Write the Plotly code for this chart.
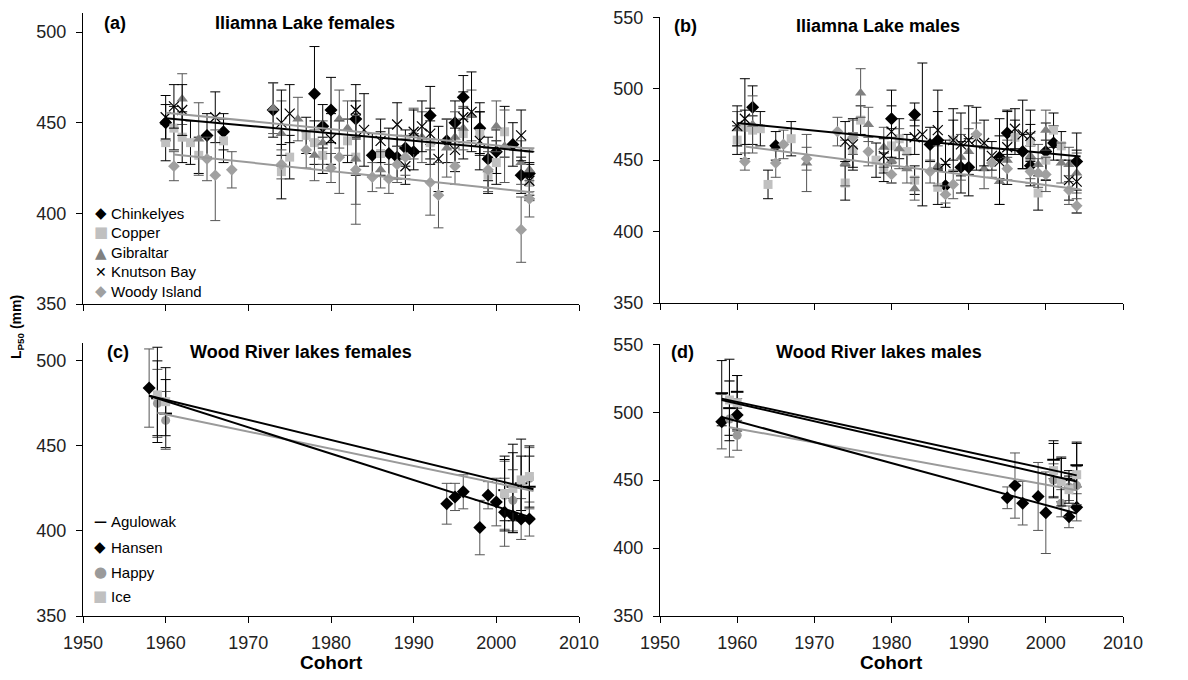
import plotly.graph_objects as go

# ---------------- Panel (a) Iliamna Lake females ----------------
a_chink_x = [1960, 1965, 1967, 1973, 1978, 1979, 1980, 1983, 1985, 1987, 1988, 1989, 1990, 1992, 1994, 1995, 1996, 1998, 1999, 2000, 2002, 2003, 2004]
a_chink_y = [450, 443, 445, 457, 466, 448, 457, 452, 432, 433, 431, 436, 434, 454, 440, 450, 464, 447, 430, 434, 438, 421, 422]
a_chink_e = [10, 12, 10, 15, 26, 12, 18, 10, 12, 14, 12, 10, 10, 16, 12, 12, 12, 14, 12, 12, 12, 10, 12]

a_copper_x = [1960, 1961, 1962, 1963, 1964, 1967, 1974, 1975, 1977, 1978, 1979, 1982, 1983, 1986, 1992, 1996, 1998, 1999, 2000, 2001, 2004]
a_copper_y = [439, 447, 442, 439, 432, 440, 423, 431, 443, 439, 432, 440, 431, 433, 439, 444, 444, 421, 428, 445, 417]
a_copper_e = [10, 12, 14, 12, 10, 12, 15, 12, 10, 12, 10, 12, 10, 12, 12, 14, 12, 10, 12, 14, 10]

a_gib_x = [1962, 1964, 1973, 1974, 1976, 1978, 1979, 1981, 1982, 1983, 1986, 1989, 1990, 1991, 1994, 1995, 1996, 1997, 1999, 2000, 2001, 2003, 2004]
a_gib_y = [463, 441, 458, 444, 452, 432, 439, 452, 447, 430, 424, 431, 444, 442, 436, 442, 447, 454, 424, 448, 437, 428, 424]
a_gib_e = [14, 20, 14, 18, 12, 14, 12, 16, 15, 25, 10, 12, 14, 14, 16, 14, 12, 14, 12, 14, 20, 12, 12]

a_knut_x = [1960, 1961, 1962, 1966, 1974, 1975, 1980, 1983, 1984, 1986, 1988, 1989, 1990, 1991, 1992, 1993, 1995, 1996, 1997, 1998, 2003, 2004]
a_knut_y = [453, 459, 457, 453, 450, 455, 441, 457, 446, 440, 449, 426, 445, 448, 444, 430, 435, 453, 456, 440, 443, 418]
a_knut_e = [12, 12, 14, 14, 18, 16, 14, 14, 20, 12, 12, 10, 12, 14, 14, 18, 12, 14, 22, 16, 14, 10]

a_woody_x = [1961, 1965, 1966, 1968, 1974, 1977, 1980, 1981, 1983, 1985, 1987, 1988, 1989, 1992, 1993, 1995, 1999, 2003, 2004]
a_woody_y = [426, 430, 421, 424, 427, 435, 425, 431, 424, 420, 419, 427, 431, 417, 410, 426, 424, 391, 408]
a_woody_e = [8, 12, 25, 10, 8, 10, 8, 20, 30, 8, 8, 10, 10, 18, 18, 10, 10, 18, 10]

a_trend_black_x = [1960, 2004.5]
a_trend_black_y = [452.5, 434]
a_trend_gray1_x = [1960, 2004.5]
a_trend_gray1_y = [455.5, 435.5]
a_trend_gray2_x = [1961, 2004.5]
a_trend_gray2_y = [432.5, 411.5]

# ---------------- Panel (b) Iliamna Lake males ----------------
b_chink_x = [1962, 1965, 1980, 1983, 1985, 1986, 1987, 1989, 1990, 1994, 1995, 1997, 1998, 2000, 2001, 2004]
b_chink_y = [487, 460, 479, 482, 461, 464, 432, 445, 445, 452, 469, 456, 446, 456, 462, 449]
b_chink_e = [15, 10, 20, 8, 12, 20, 15, 18, 20, 15, 15, 12, 14, 20, 12, 20]

b_copper_x = [1960, 1961, 1962, 1963, 1964, 1967, 1974, 1975, 1976, 1978, 1979, 1980, 1981, 1982, 1983, 1986, 1988, 1996, 1998, 1999, 2000, 2001, 2002]
b_copper_y = [464, 473, 471, 472, 433, 465, 434, 457, 478, 450, 445, 460, 465, 456, 436, 431, 464, 466, 463, 427, 450, 471, 460]
b_copper_e = [10, 12, 10, 12, 10, 12, 12, 12, 10, 12, 10, 12, 14, 12, 10, 12, 14, 12, 12, 12, 14, 12, 10]

b_gib_x = [1960, 1962, 1969, 1974, 1976, 1977, 1979, 1980, 1981, 1982, 1983, 1986, 1989, 1990, 1992, 1994, 1995, 1998, 1999, 2000, 2002, 2003, 2004]
b_gib_y = [472, 475, 448, 448, 497, 475, 459, 450, 458, 444, 430, 446, 452, 456, 444, 435, 450, 453, 447, 471, 448, 447, 441]
b_gib_e = [12, 20, 20, 16, 17, 12, 14, 16, 14, 10, 8, 14, 16, 16, 14, 16, 14, 16, 14, 14, 14, 12, 14]

b_knut_x = [1960, 1961, 1974, 1975, 1979, 1980, 1983, 1984, 1986, 1987, 1988, 1989, 1990, 1991, 1992, 1993, 1994, 1995, 1996, 1997, 1998, 2003, 2004]
b_knut_y = [474, 479, 463, 461, 453, 470, 466, 468, 471, 448, 464, 461, 464, 465, 462, 453, 449, 459, 472, 468, 467, 436, 435]
b_knut_e = [14, 28, 14, 18, 12, 18, 12, 50, 28, 16, 22, 22, 24, 22, 16, 10, 30, 26, 14, 24, 18, 14, 22]

b_woody_x = [1961, 1965, 1966, 1969, 1973, 1975, 1977, 1980, 1985, 1987, 1988, 1991, 1993, 1995, 1998, 1999, 2000, 2003, 2004]
b_woody_y = [449, 448, 461, 451, 470, 466, 456, 440, 442, 426, 433, 468, 448, 444, 442, 441, 440, 429, 418]
b_woody_e = [6, 10, 10, 8, 10, 12, 10, 6, 8, 6, 10, 8, 10, 8, 8, 10, 12, 10, 5]

b_trend_black_x = [1960, 2004.5]
b_trend_black_y = [476, 452.5]
b_trend_gray_x = [1961, 2004.5]
b_trend_gray_y = [459.5, 429.5]

# ---------------- Panel (c) Wood River lakes females ----------------
c_agu_x = [1959, 1960, 2001, 2002, 2003, 2004]
c_agu_y = [478, 469, 424, 426, 428, 426]
c_agu_e = [22, 20, 18, 20, 16, 18]

c_hansen_x = [1958, 1994, 1995, 1996, 1998, 1999, 2000, 2001, 2002, 2003, 2004]
c_hansen_y = [484, 416, 420, 423, 402, 421, 417, 411, 409, 407, 407]
c_hansen_e = [23, 12, 8, 10, 16, 8, 14, 20, 10, 12, 10]

c_happy_x = [1959, 1960, 2001, 2002, 2004]
c_happy_y = [475, 465, 421, 418, 431]
c_happy_e = [20, 17, 20, 18, 18]

c_ice_x = [1959, 1960, 2001, 2002, 2003, 2004]
c_ice_y = [480, 476, 422, 425, 430, 432]
c_ice_e = [28, 20, 22, 26, 24, 18]

c_trend_black1_x = [1958, 2004.5]
c_trend_black1_y = [479.5, 424.5]
c_trend_black2_x = [1958, 2004.5]
c_trend_black2_y = [479.5, 407.5]
c_trend_gray_x = [1959, 2004.5]
c_trend_gray_y = [469.5, 423.5]

# ---------------- Panel (d) Wood River lakes males ----------------
d_agu_x = [1958, 1959, 1960, 2001, 2002, 2003, 2004]
d_agu_y = [514, 503, 515, 465, 450, 451, 461]
d_agu_e = [24, 20, 12, 14, 16, 6, 16]

d_hansen_x = [1958, 1960, 1995, 1996, 1997, 1999, 2000, 2003, 2004]
d_hansen_y = [493, 498, 437, 446, 433, 438, 426, 423, 430]
d_hansen_e = [20, 12, 8, 24, 16, 25, 30, 8, 10]

d_happy_x = [1959, 1960, 2001, 2002, 2003, 2004]
d_happy_y = [495, 483, 450, 433, 445, 446]
d_happy_e = [28, 11, 12, 10, 10, 14]

d_ice_x = [1959, 1960, 2001, 2002, 2003, 2004]
d_ice_y = [509, 507, 457, 449, 443, 454]
d_ice_e = [30, 20, 20, 18, 10, 24]

d_trend_black1_x = [1958, 2004]
d_trend_black1_y = [510, 453.5]
d_trend_black2_x = [1958, 2004]
d_trend_black2_y = [509, 449]
d_trend_black3_x = [1958, 2004]
d_trend_black3_y = [496.5, 425.5]
d_trend_gray_x = [1959, 2004]
d_trend_gray_y = [489, 442.5]

x_ticks = [1950, 1960, 1970, 1980, 1990, 2000, 2010]
legend_iliamna = ["Chinkelyes", "Copper", "Gibraltar", "Knutson Bay", "Woody Island"]
legend_wood = ["Agulowak", "Hansen", "Happy", "Ice"]

BLACK = "#000000"
LIGHT = "#c0c0c0"
MID = "#808080"
WOODY = "#a0a0a0"
HAPPY = "#9a9a9a"
EDARK = "#555555"
FONT = "Liberation Sans, Arial, sans-serif"

fig = go.Figure()


def series(x, y, e, name, symbol, color, ecolor, size, xa, ya, line_w=0):
    marker = dict(symbol=symbol, size=size, color=color)
    if symbol in ("x-thin", "line-ew"):
        marker["line"] = dict(width=line_w, color=color)
    fig.add_trace(go.Scatter(
        x=x, y=y, mode="markers", name=name, marker=marker,
        error_y=dict(type="data", array=e, visible=True, color=ecolor,
                     thickness=1, width=5),
        xaxis=xa, yaxis=ya, showlegend=False,
        hoverinfo="x+y+name",
    ))


def trend(x, y, color, xa, ya):
    fig.add_trace(go.Scatter(x=x, y=y, mode="lines",
                             line=dict(color=color, width=2),
                             xaxis=xa, yaxis=ya, showlegend=False,
                             hoverinfo="skip"))


# Panel (a)
series(a_chink_x, a_chink_y, a_chink_e, "Chinkelyes", "diamond", BLACK, BLACK, 10, "x", "y")
series(a_copper_x, a_copper_y, a_copper_e, "Copper", "square", LIGHT, BLACK, 9, "x", "y")
series(a_gib_x, a_gib_y, a_gib_e, "Gibraltar", "triangle-up", MID, EDARK, 10, "x", "y")
series(a_knut_x, a_knut_y, a_knut_e, "Knutson Bay", "x-thin", BLACK, BLACK, 10, "x", "y", 1.2)
series(a_woody_x, a_woody_y, a_woody_e, "Woody Island", "diamond", WOODY, EDARK, 9, "x", "y")
trend(a_trend_gray2_x, a_trend_gray2_y, HAPPY, "x", "y")
trend(a_trend_gray1_x, a_trend_gray1_y, HAPPY, "x", "y")
trend(a_trend_black_x, a_trend_black_y, BLACK, "x", "y")

# Panel (b)
series(b_chink_x, b_chink_y, b_chink_e, "Chinkelyes", "diamond", BLACK, BLACK, 10, "x2", "y2")
series(b_copper_x, b_copper_y, b_copper_e, "Copper", "square", LIGHT, BLACK, 9, "x2", "y2")
series(b_gib_x, b_gib_y, b_gib_e, "Gibraltar", "triangle-up", MID, EDARK, 10, "x2", "y2")
series(b_knut_x, b_knut_y, b_knut_e, "Knutson Bay", "x-thin", BLACK, BLACK, 10, "x2", "y2", 1.2)
series(b_woody_x, b_woody_y, b_woody_e, "Woody Island", "diamond", WOODY, EDARK, 9, "x2", "y2")
trend(b_trend_gray_x, b_trend_gray_y, HAPPY, "x2", "y2")
trend(b_trend_black_x, b_trend_black_y, BLACK, "x2", "y2")

# Panel (c)
series(c_agu_x, c_agu_y, c_agu_e, "Agulowak", "line-ew", BLACK, BLACK, 9, "x3", "y3", 2)
series(c_hansen_x, c_hansen_y, c_hansen_e, "Hansen", "diamond", BLACK, EDARK, 10, "x3", "y3")
series(c_happy_x, c_happy_y, c_happy_e, "Happy", "circle", HAPPY, EDARK, 9, "x3", "y3")
series(c_ice_x, c_ice_y, c_ice_e, "Ice", "square", LIGHT, BLACK, 9, "x3", "y3")
trend(c_trend_gray_x, c_trend_gray_y, HAPPY, "x3", "y3")
trend(c_trend_black1_x, c_trend_black1_y, BLACK, "x3", "y3")
trend(c_trend_black2_x, c_trend_black2_y, BLACK, "x3", "y3")

# Panel (d)
series(d_agu_x, d_agu_y, d_agu_e, "Agulowak", "line-ew", BLACK, BLACK, 9, "x4", "y4", 2)
series(d_hansen_x, d_hansen_y, d_hansen_e, "Hansen", "diamond", BLACK, EDARK, 10, "x4", "y4")
series(d_happy_x, d_happy_y, d_happy_e, "Happy", "circle", HAPPY, EDARK, 9, "x4", "y4")
series(d_ice_x, d_ice_y, d_ice_e, "Ice", "square", LIGHT, BLACK, 9, "x4", "y4")
trend(d_trend_gray_x, d_trend_gray_y, HAPPY, "x4", "y4")
trend(d_trend_black1_x, d_trend_black1_y, BLACK, "x4", "y4")
trend(d_trend_black2_x, d_trend_black2_y, BLACK, "x4", "y4")
trend(d_trend_black3_x, d_trend_black3_y, BLACK, "x4", "y4")

W, H = 1188, 680
OFF = 8  # page body margin offset in the browser
tickfont = dict(family=FONT, size=18, color="#222222")


def PX(px):
    return (px - OFF) / W


def PY(py):
    return 1 - (py - OFF) / H


def xax(domain, anchor, labels):
    return dict(domain=domain, anchor=anchor, range=[1950, 2010],
                tickvals=x_ticks, showticklabels=labels, ticks="outside",
                ticklen=6, tickcolor="black", showline=True, linecolor="black",
                linewidth=1, showgrid=False, zeroline=False, tickfont=tickfont,
                automargin=False, ticklabelstandoff=4, ticklabeloverflow="allow")


def yax(domain, anchor, top):
    return dict(domain=domain, anchor=anchor, range=[350, top],
                tickvals=[350, 400, 450, 500, 550] if top >= 550 else [350, 400, 450, 500],
                ticks="outside", ticklen=6, tickcolor="black",
                showline=True, linecolor="black", linewidth=1, showgrid=False,
                zeroline=False, tickfont=tickfont, automargin=False,
                ticklabelstandoff=6, ticklabeloverflow="allow")


xl = [PX(83), PX(579)]
xr = [PX(660), PX(1123)]
fig.update_layout(
    template="none",
    width=W, height=H, autosize=False,
    margin=dict(l=0, r=0, t=0, b=0, pad=0),
    paper_bgcolor="white", plot_bgcolor="white",
    font=dict(family=FONT, color="black"),
    showlegend=False,
    xaxis=xax(xl, "y", False),
    yaxis=yax([PY(304), PY(13)], "x", 510.5),
    xaxis2=xax(xr, "y2", False),
    yaxis2=yax([PY(303), PY(17)], "x2", 550.2),
    xaxis3=xax(xl, "y3", True),
    yaxis3=yax([PY(616), PY(343)], "x3", 510.5),
    xaxis4=xax(xr, "y4", True),
    yaxis4=yax([PY(616), PY(344)], "x4", 550.2),
)


def paper_text(text, px, py, size, color="black", anchor="center", family=FONT, angle=0):
    fig.add_annotation(text=text, x=PX(px), y=PY(py), xref="paper", yref="paper",
                       showarrow=False, xanchor=anchor, yanchor="middle",
                       textangle=angle, font=dict(family=family, size=size, color=color))


# Titles and axis titles
paper_text("<b>(a)</b>", 115, 23, 18)
paper_text("<b>Iliamna Lake females</b>", 305, 23, 18)
paper_text("<b>(b)</b>", 685, 26, 18)
paper_text("<b>Iliamna Lake males</b>", 878, 26, 18)
paper_text("<b>(c)</b>", 118, 352, 18)
paper_text("<b>Wood River lakes females</b>", 301, 352, 18)
paper_text("<b>(d)</b>", 682, 352, 18)
paper_text("<b>Wood River lakes males</b>", 879, 352, 18)
paper_text("<b>Cohort</b>", 331, 662, 19)
paper_text("<b>Cohort</b>", 891, 662, 19)
paper_text("<b>L<sub>P50</sub> (mm)</b>", 17, 327, 14, angle=-90)

# Legend (a): symbol glyph + label
GLYPH = "DejaVu Sans"
leg_a_sym = [("◆", BLACK, 15), ("■", LIGHT, 15), ("▲", MID, 15), ("✕", BLACK, 14), ("◆", WOODY, 15)]
leg_a_rows = [213, 232.5, 252.5, 272, 291]
for name, (g, col, gs), ry in zip(legend_iliamna, leg_a_sym, leg_a_rows):
    paper_text(g, 101, ry, gs, color=col, family=GLYPH)
    paper_text(name, 109, ry, 15, anchor="left")

# Legend (c)
leg_c_sym = [("<b>—</b>", BLACK, 13), ("◆", BLACK, 15), ("●", HAPPY, 15), ("■", LIGHT, 15)]
leg_c_rows = [521, 547, 572, 596]
for name, (g, col, gs), ry in zip(legend_wood, leg_c_sym, leg_c_rows):
    paper_text(g, 100, ry, gs, color=col, family=GLYPH)
    paper_text(name, 109, ry, 15, anchor="left")

fig.write_html("out.html")
